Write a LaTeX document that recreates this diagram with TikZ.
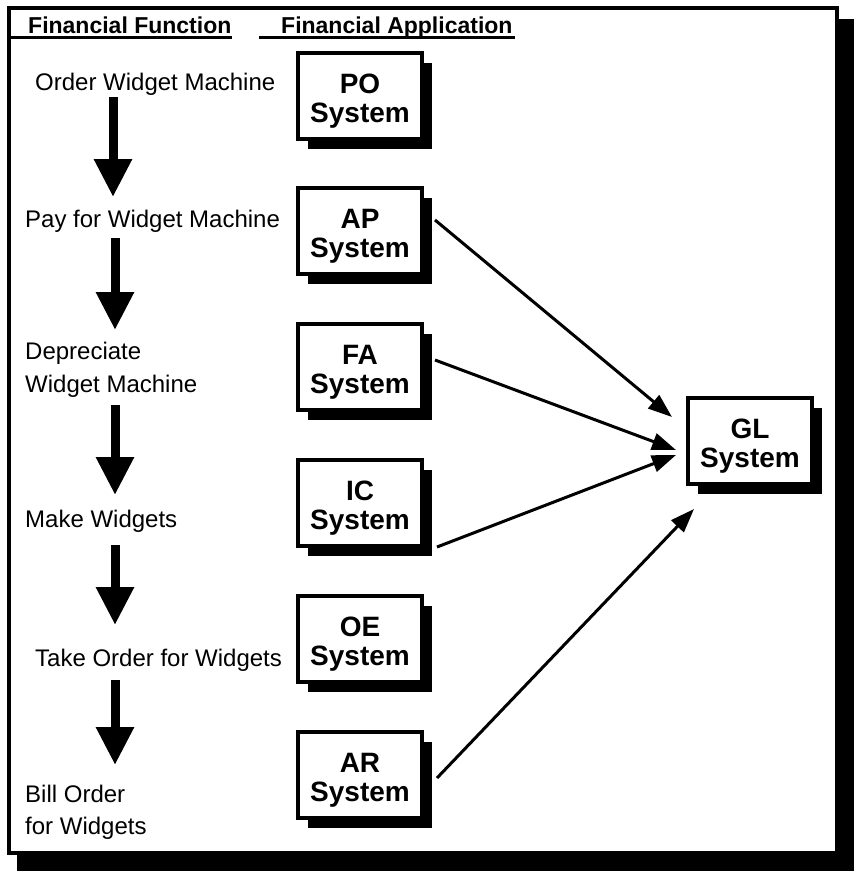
\documentclass[tikz,border=0pt]{standalone}
\usepackage{fontspec}
\setmainfont{Liberation Sans}
\usetikzlibrary{arrows.meta,shadows}
\begin{document}
\begin{tikzpicture}[x=1pt,y=-1pt,
  hdr/.style={font=\bfseries\fontsize{23}{25}\selectfont, inner sep=0pt, anchor=base west},
  fn/.style={font=\fontsize{24}{26}\selectfont, inner sep=0pt, anchor=base west},
  sysbox/.style={draw=black, line width=4pt, fill=white, minimum width=124pt, minimum height=86pt,
    inner sep=0pt, align=center, font=\bfseries\fontsize{28}{28.5}\selectfont,
    text height=58.4pt, text depth=6pt,
    drop shadow={shadow xshift=10pt, shadow yshift=-10pt, fill=black, opacity=1}},
  bigarrow/.style={line width=9pt, -{Triangle[length=38pt,width=36pt]}},
  thinarrow/.style={line width=3pt, -{Triangle[length=24pt,width=17pt]}},
]
\useasboundingbox (0,0) rectangle (854,871);
% frame with shadow
\fill[black] (17,19) rectangle (854,871);
\draw[line width=4pt, fill=white] (8.5,8) rectangle (837,853);

% headers
\node[hdr] (h1) at (28,33) {Financial Function};
\node[hdr] (h2) at (281,33) {Financial Application};
\draw[line width=2.2pt] (10,37.5) -- (232,37.5);
\draw[line width=2.2pt] (259,37.5) -- (515,37.5);

% financial functions
\node[fn] (f1) at (35,90) {Order Widget Machine};
\node[fn] (f2) at (25,227) {Pay for Widget Machine};
\node[fn] (f3a) at (25,359) {Depreciate};
\node[fn] (f3b) at (25,392) {Widget Machine};
\node[fn] (f4) at (25,527) {Make Widgets};
\node[fn] (f5) at (35,666) {Take Order for Widgets};
\node[fn] (f6a) at (25,802) {Bill Order};
\node[fn] (f6b) at (25,834) {for Widgets};

% big arrows
\coordinate (a1s) at (113,97);  \coordinate (a1e) at (113,197);
\coordinate (a2s) at (115,238); \coordinate (a2e) at (115,330);
\coordinate (a3s) at (115,405); \coordinate (a3e) at (115,495);
\coordinate (a4s) at (115,545); \coordinate (a4e) at (115,625);
\coordinate (a5s) at (115,680); \coordinate (a5e) at (115,765);
\draw[bigarrow] (a1s) -- (a1e);
\draw[bigarrow] (a2s) -- (a2e);
\draw[bigarrow] (a3s) -- (a3e);
\draw[bigarrow] (a4s) -- (a4e);
\draw[bigarrow] (a5s) -- (a5e);

% systems
\node[sysbox] (PO) at (360,96) {PO\\System};
\node[sysbox] (AP) at (360,231) {AP\\System};
\node[sysbox] (FA) at (360,367) {FA\\System};
\node[sysbox] (IC) at (360,503) {IC\\System};
\node[sysbox] (OE) at (360,639) {OE\\System};
\node[sysbox] (AR) at (360,775) {AR\\System};
\node[sysbox] (GL) at (750,441) {GL\\System};

% thin arrows
\draw[thinarrow] ([shift={(11,-11)}]AP.east) -- ([shift={(-14,-24)}]GL.west);
\draw[thinarrow] ([shift={(11,-7)}]FA.east) -- ([shift={(-10,9)}]GL.west);
\draw[thinarrow] ([shift={(13,44)}]IC.east) -- ([shift={(-10,14)}]GL.west);
\draw[thinarrow] ([shift={(13,3)}]AR.east) -- ([shift={(8,23)}]GL.south west);
\end{tikzpicture}
\end{document}
